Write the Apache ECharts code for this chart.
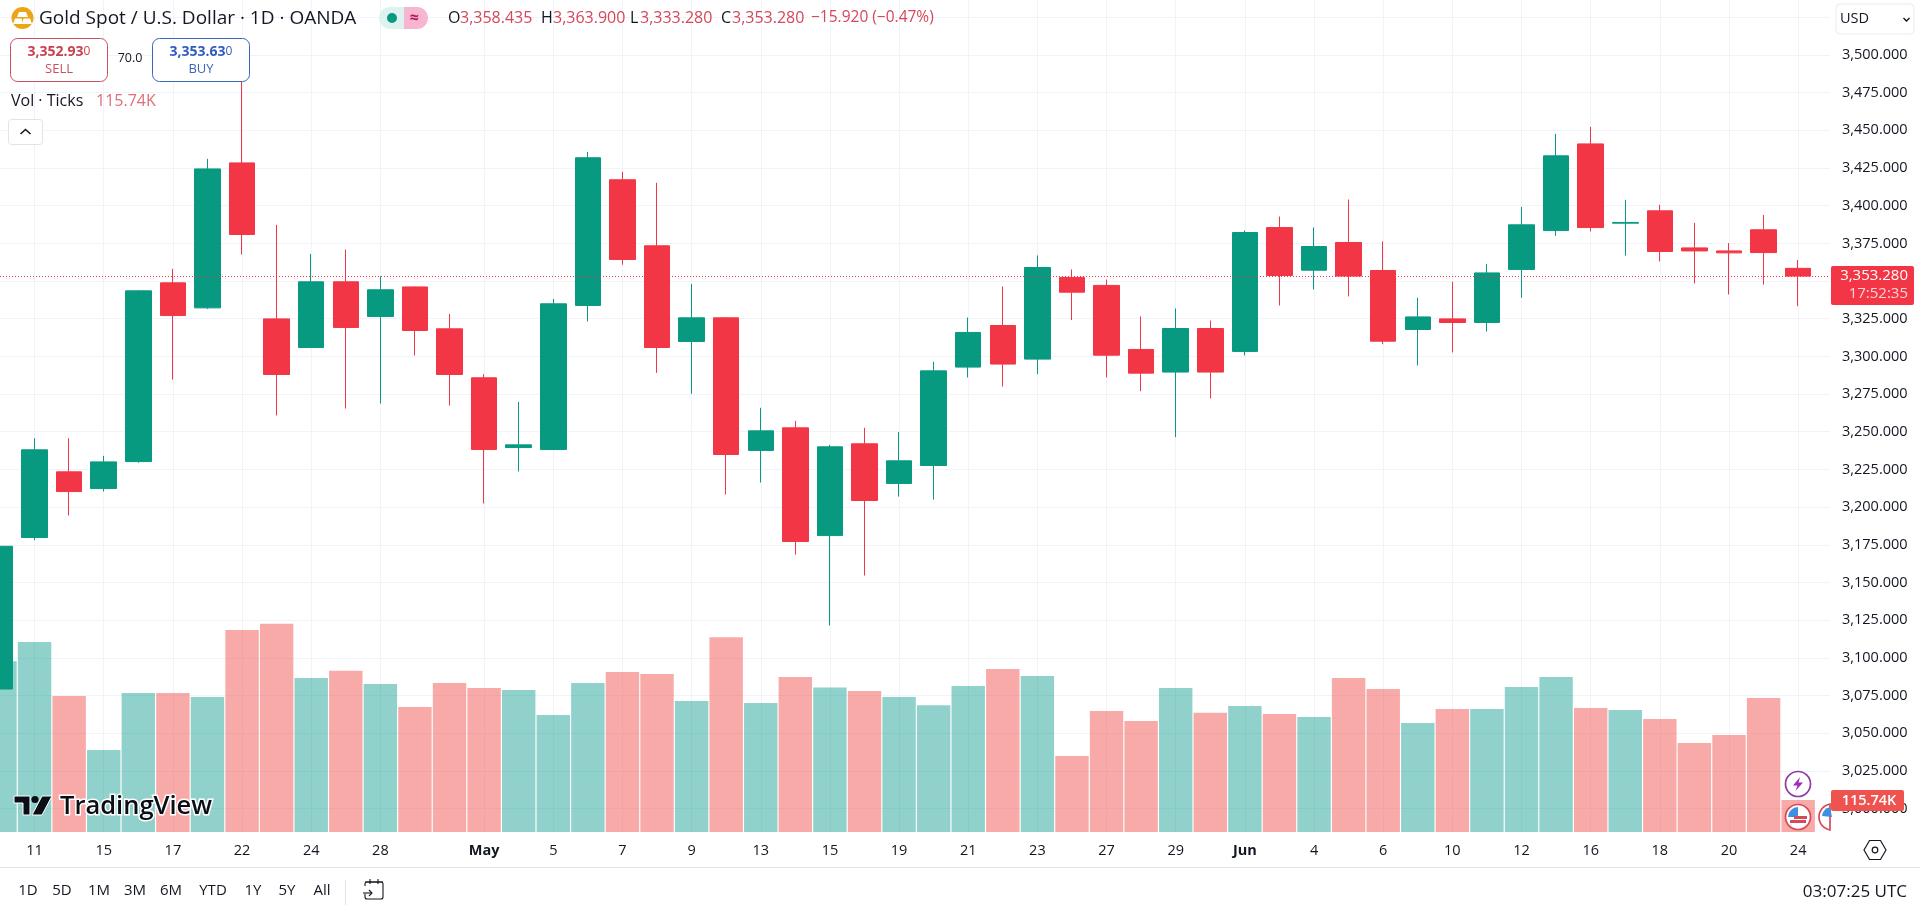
<!DOCTYPE html>
<html><head><meta charset="utf-8">
<style>html,body{margin:0;padding:0;background:#fff}#c{width:1920px;height:913px}</style>
<script src="https://cdn.jsdelivr.net/npm/echarts@6/dist/echarts.min.js"></script>
</head><body><div id="c"></div>
<script>
const dayLabels=['','11','','15','','17','','22','','24','','28','','','May','','5','','7','','9','','13','','15','','19','','21','','23','','27','','29','','Jun','','4','','6','','10','','12','','16','','18','','20','','24',''];
const opens =[3079.3,3179.8,3223.4,3212.3,3230.2,3348.8,3332.2,3428.4,3324.9,3305.9,3349.5,3326.5,3346.1,3318.3,3285.8,3239.5,3238.2,3333.8,3417.2,3373.4,3309.9,3325.6,3237.6,3252.6,3181.1,3242.0,3215.7,3227.6,3292.9,3320.5,3298.2,3352.4,3347.1,3304.6,3289.6,3318.5,3303.3,3385.5,3357.2,3375.6,3357.0,3317.9,3324.9,3322.5,3357.7,3383.5,3441.0,3388.4,3396.6,3372.0,3370.0,3384.0,3358.435];
const closes=[3174.0,3238.0,3210.3,3230.0,3343.5,3327.1,3424.4,3380.9,3288.0,3349.5,3319.2,3344.2,3317.2,3288.0,3238.2,3241.3,3334.9,3431.8,3364.3,3305.9,3325.6,3234.9,3250.6,3177.2,3240.0,3204.4,3230.7,3290.4,3315.9,3294.9,3359.0,3342.6,3300.8,3288.9,3318.5,3289.6,3382.2,3353.7,3372.9,3353.3,3310.1,3326.2,3322.5,3355.4,3387.3,3433.1,3385.5,3388.9,3369.6,3370.0,3368.7,3368.9,3353.28];
const lows  =[3079.3,3178.0,3194.4,3210.3,3229.5,3284.6,3331.5,3367.6,3260.8,3305.5,3265.4,3268.7,3300.6,3267.4,3202.4,3223.6,3238.0,3323.2,3360.8,3289.1,3275.2,3208.4,3216.3,3168.5,3121.4,3154.6,3207.0,3205.0,3286.0,3280.0,3288.2,3324.1,3286.0,3276.9,3246.4,3272.1,3300.6,3333.8,3344.4,3339.8,3308.1,3294.0,3302.6,3316.5,3338.9,3380.0,3382.9,3366.9,3363.0,3348.4,3341.1,3347.7,3333.28];
const highs =[3174.0,3245.7,3245.7,3234.0,3344.0,3358.1,3431.1,3500.0,3387.3,3368.0,3370.9,3353.2,3346.5,3328.2,3288.2,3269.8,3338.2,3435.7,3422.5,3415.2,3348.1,3326.0,3265.9,3257.2,3241.3,3252.6,3249.9,3296.4,3325.8,3346.4,3367.0,3357.7,3351.0,3326.5,3331.8,3323.8,3383.6,3392.8,3385.5,3404.1,3376.3,3338.9,3349.5,3361.4,3399.2,3447.7,3452.3,3403.9,3400.6,3388.6,3375.2,3393.9,3363.9];
const volumes=[618,687,492,297,503,503,488,731,753,557,583,535,452,539,521,514,423,539,579,572,474,705,467,561,523,510,488,459,528,590,564,275,438,402,521,431,456,427,416,557,517,394,445,445,525,561,449,441,409,322,351,485,115.74];
const lastClose=3353.28;
const rangeLabels=['1D','5D','1M','3M','6M','YTD','1Y','5Y','All'];

const UP='#089981',DOWN='#f23645',GRIDC='#f0f3fa',TXT='#131722';
const FONT='"Open Sans","Noto Sans",sans-serif';
const pxPerUsd=1.507, bandW=34.58, N=dayLabels.length;
const gridTop=55-25*pxPerUsd, gridH=550*pxPerUsd;
const showLabel=(i,v)=>v!=='';

function T(x,y,text,o={}){return {type:'text',x,y,z:o.z||120,silent:true,style:Object.assign({text,fill:o.fill||TXT,font:(o.weight||'normal')+' '+(o.size||14)+'px '+FONT,textAlign:o.align||'left',textVerticalAlign:'middle',textBaseline:'middle'},o.extra||{})};}
function R(x,y,w,h,o={}){return {type:'rect',z:o.z||110,silent:true,shape:{x,y,width:w,height:h,r:o.r||0},style:{fill:o.fill||'#fff',stroke:o.stroke||null,lineWidth:o.lw||1}};}
function C(cx,cy,r,o={}){return {type:'circle',z:o.z||110,silent:true,shape:{cx,cy,r},style:{fill:o.fill||'#fff',stroke:o.stroke||null,lineWidth:o.lw||1}};}
function P(points,o={}){return {type:'polygon',z:o.z||110,silent:true,shape:{points},style:{fill:o.fill||'#000'}};}
function L(points,o={}){return {type:'polyline',z:o.z||110,silent:true,shape:{points},style:{fill:null,stroke:o.stroke||'#131722',lineWidth:o.lw||1.3}};}
function chord(cx,cy,r,limit){const a=Math.acos((limit-cx)/r),pts=[];for(let k=0;k<=24;k++){const t=a+(2*Math.PI-2*a)*k/24;pts.push([cx+r*Math.cos(t),cy+r*Math.sin(t)]);}return pts;}

const g=[];
// header
g.push(C(22.5,18,11,{fill:'#eaa616'}));
g.push(P([[19,12],[26,12],[28,17],[17,17]],{fill:'#fff'}));
g.push(P([[15,18.5],[21.5,18.5],[23,24],[13,24]],{fill:'#fff'}));
g.push(P([[23.5,18.5],[30,18.5],[32,24],[22,24]],{fill:'#fff'}));
g.push(T(39,19,'Gold Spot / U.S. Dollar · 1D · OANDA',{size:19}));
g.push(R(379,7,25,22,{fill:'#def3ef',r:[11,0,0,11]}));
g.push(R(404,7,24,22,{fill:'#f8b5d0',r:[0,11,11,0]}));
g.push(C(392,18,5,{fill:UP,z:115}));
g.push(T(414,18,'≈',{fill:'#b0185f',size:16,align:'center',weight:'bold'}));
[['O',448,'3,358.435',460],['H',541,'3,363.900',553],['L',630,'3,333.280',640],['C',721,'3,353.280',732]].forEach(a=>{g.push(T(a[1],18,a[0],{size:16}));g.push(T(a[3],18,a[2],{size:16,fill:'#d5475a'}));});
g.push(T(811,18,'−15.920 (−0.47%)',{size:15.5,fill:'#d5475a'}));
// sell / buy
g.push(R(10.5,38.5,97,43,{stroke:'#c9505f',r:7,z:112}));
g.push(T(59,52,'{a|3,352.93}{b|0}',{align:'center',extra:{rich:{a:{font:'bold 14px '+FONT,fill:'#c9404f'},b:{font:'12px '+FONT,fill:'#c9404f'}}}}));
g.push(T(59,69,'SELL',{size:13,fill:'#c9505f',align:'center'}));
g.push(T(130,58,'70.0',{size:12.5,align:'center'}));
g.push(R(152.5,38.5,97,43,{stroke:'#3a66b5',r:7,z:112}));
g.push(T(201,52,'{a|3,353.63}{b|0}',{align:'center',extra:{rich:{a:{font:'bold 14px '+FONT,fill:'#2f5cc0'},b:{font:'12px '+FONT,fill:'#2f5cc0'}}}}));
g.push(T(201,69,'BUY',{size:13,fill:'#3a66b5',align:'center'}));
g.push(T(11,101,'Vol · Ticks',{size:16}));
g.push(T(96,101,'115.74K',{size:16,fill:'#de6f78'}));
g.push(R(8.5,119.5,34,25,{stroke:'#e0e3eb',r:3}));
g.push(L([[20.5,134],[25.5,129.5],[30.5,134]],{lw:1.6,z:115}));
// right side
g.push(R(1836,4,78,30,{stroke:'#e9ebf0',r:4}));
g.push(T(1840,19,'USD',{size:14.5}));
g.push(L([[1903.5,18],[1906.5,21],[1909.5,18]],{lw:1.4,z:115}));
g.push(R(1831,266,83,39,{fill:DOWN,r:2}));
g.push(T(1908,276,'3,353.280',{size:15,fill:'#fff',align:'right'}));
g.push(T(1908,294,'17:52:35',{size:15,fill:'#fbd3d7',align:'right'}));
// toolbar
g.push(R(0,867,1920,1,{fill:'#e0e3eb'}));
rangeLabels.forEach((t,i)=>g.push(T([28,62,99,135,171,213,253,287,322][i],891,t,{size:15,align:'center'})));
g.push(R(345,880,1,25,{fill:'#e0e3eb'}));
g.push(R(365,882,18,17,{fill:'rgba(0,0,0,0)',stroke:'#131722',r:2,lw:1.1}));
g.push(R(362,886,9,8,{fill:'#fff',z:111}));
g.push(L([[365,882],[383,882]],{lw:1.1,z:112}));
g.push(L([[370,879],[370,884]],{lw:1.1,z:112}));
g.push(L([[378,879],[378,884]],{lw:1.1,z:112}));
g.push(L([[363,893],[372,893]],{lw:1.1,z:112}));
g.push(L([[369,890],[372,893],[369,896]],{lw:1.1,z:112}));
g.push(T(1907,892,'03:07:25 UTC',{size:17,align:'right'}));
g.push({type:'polygon',z:115,silent:true,shape:{points:[[1864,850],[1869.5,840.5],[1880.5,840.5],[1886,850],[1880.5,859.5],[1869.5,859.5]]},style:{fill:'#fff',stroke:TXT,lineWidth:1.2}});
g.push(C(1875,850,2.8,{stroke:TXT,z:116,lw:1.2}));
// watermark
g.push({type:'polygon',z:120,silent:true,shape:{points:[[14,796],[30,796],[30,815],[23,815],[23,803],[14,803]]},style:{fill:'#0b0e14',stroke:'#fff',lineWidth:1}});
g.push(C(35,799.5,3.6,{fill:'#0b0e14',z:120}));
g.push({type:'polygon',z:120,silent:true,shape:{points:[[42,796],[52,796],[42,815],[32,815]]},style:{fill:'#0b0e14',stroke:'#fff',lineWidth:1}});
g.push(T(60,807,'TradingView',{size:25.5,weight:'600',fill:'#0b0e14',extra:{stroke:'#fff',lineWidth:3}}));
// event icons
g.push(C(1798,784,12.5,{fill:'#fff',stroke:'#8e3ba6',lw:1.7,z:121}));
g.push(P([[1800,777],[1793,785.5],[1797.5,785.5],[1795.5,791],[1803,782.5],[1798.5,782.5]],{fill:'#a02bbd',z:122}));
function flag(cx,cy,limit){
  const inner=limit?chord(cx,cy,13,limit):null;
  if(inner){g.push({type:'polygon',z:121,silent:true,shape:{points:inner},style:{fill:'#fff',stroke:'#d64a57',lineWidth:1.7}});return;}
  g.push(C(cx,cy,12.5,{fill:'#fff',stroke:'#d64a57',lw:1.7,z:121}));
  g.push({type:'sector',z:122,silent:true,shape:{cx,cy,r:10,r0:0,startAngle:Math.PI,endAngle:1.5*Math.PI},style:{fill:'#3f8fe0'}});
  g.push(R(cx-4,cy-1,13,3,{fill:'#d64a57',z:122}));
  g.push(R(cx-8,cy+3,16,3,{fill:'#d64a57',z:122}));
}
flag(1798,817);
flag(1832,817,1830);
g.push({type:'sector',z:122,silent:true,shape:{cx:1832,cy:817,r:10,r0:0,startAngle:Math.PI+0.1,endAngle:1.5*Math.PI-0.2},style:{fill:'#3f8fe0'}});
// volume tag drawn last
g.push(R(1831,790,73,21,{fill:'#ef5350',r:2,z:125}));
g.push(T(1869,800.5,'115.74K',{size:14.5,weight:'600',fill:'#fff',align:'center',z:126}));

const chart=echarts.init(document.getElementById('c'),null,{renderer:'canvas'});
chart.setOption({
  animation:false,backgroundColor:'#fff',
  grid:[
    {left:0,top:0,width:bandW*(N-1),height:832},
    {left:0,top:gridTop,width:bandW*(N-1),height:gridH},
    {left:0,top:gridTop,width:1830,height:gridH}
  ],
  xAxis:[
    {type:'category',gridIndex:0,data:dayLabels,boundaryGap:false,
     axisLine:{show:false},axisTick:{show:false},
     axisLabel:{interval:showLabel,margin:11,fontFamily:FONT,fontSize:14.5,color:TXT,hideOverlap:false,
       formatter:v=>(v==='May'||v==='Jun')?'{b|'+v+'}':v,rich:{b:{fontFamily:FONT,fontSize:14.5,fontWeight:'bold',color:TXT}}},
     splitLine:{show:true,interval:showLabel,lineStyle:{color:GRIDC,width:1}}},
    {type:'category',gridIndex:1,data:dayLabels,boundaryGap:false,show:false},
    {type:'value',gridIndex:2,min:0,max:1,show:false}
  ],
  yAxis:[
    {type:'value',gridIndex:0,min:0,max:3010,show:false},
    {type:'value',gridIndex:1,min:2975,max:3525,show:false},
    {type:'value',gridIndex:2,min:2975,max:3525,interval:25,position:'right',
     axisLine:{show:false},axisTick:{show:false},
     splitLine:{show:true,showMinLine:false,lineStyle:{color:GRIDC,width:1}},
     axisLabel:{margin:12,fontFamily:FONT,fontSize:14.5,color:TXT,
       formatter:v=>(v<3000||v>3500)?'':Number(v).toLocaleString('en-US',{minimumFractionDigits:3,maximumFractionDigits:3})}}
  ],
  series:[
    {type:'line',xAxisIndex:2,yAxisIndex:2,data:[],silent:true,z:1,
     markLine:{silent:true,symbol:'none',label:{show:false},lineStyle:{color:DOWN,type:[1,2],width:1},data:[{yAxis:lastClose}]}},
    {type:'bar',name:'Vol',xAxisIndex:0,yAxisIndex:0,barWidth:33.4,z:2,silent:true,
     data:volumes.map((v,i)=>({value:v,itemStyle:{color:closes[i]>=opens[i]?'rgba(8,153,140,0.45)':'rgba(240,85,80,0.5)'}}))},
    {type:'candlestick',name:'XAUUSD',xAxisIndex:1,yAxisIndex:1,barWidth:26,z:3,silent:true,
     itemStyle:{color:UP,color0:DOWN,borderColor:UP,borderColor0:DOWN,borderWidth:1},
     data:opens.map((o,i)=>[o,closes[i],lows[i],highs[i]])}
  ],
  graphic:{elements:g}
});
</script></body></html>
